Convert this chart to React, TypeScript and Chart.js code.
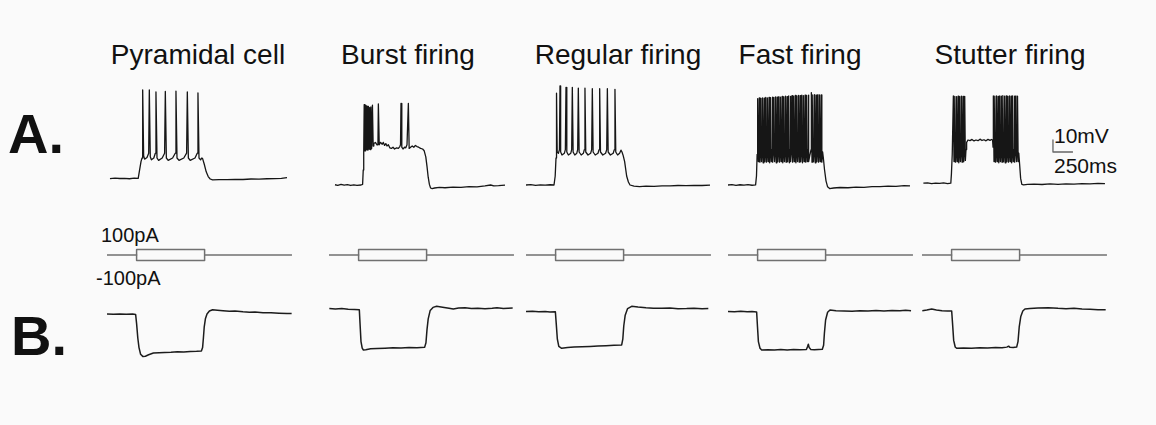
import React, { useEffect, useRef } from "react";
import { Chart, registerables } from "chart.js";
Chart.register(...registerables);

type Pt = [number, number];

// ---------- text ----------
const columnTitles = ["Pyramidal cell", "Burst firing", "Regular firing", "Fast firing", "Stutter firing"];
const rowLabels = ["A.", "B."];
const stimLabels = ["100pA", "-100pA"];
const scaleBarLabels = ["10mV", "250ms"];

// ---------- stimulus protocol (ms, pA) ----------
const stimBaseline: Pt[] = [[0, 0], [370, 0], [370, 100], [1220, 100], [1220, 0], [2312, 0]];
const stimNegative: Pt[] = [[370, 0], [370, -100], [1220, -100], [1220, 0]];

// ---------- scale bar (ms, mV) ----------
const scaleBar: Pt[] = [[1637, -40], [1637, -50], [1887, -50]];

// ---------- A. depolarising responses (ms, mV) ----------
const pyramidalA: Pt[] = [
  [37, -72.2], [100, -71.8], [160, -72.1], [220, -71.9], [280, -72.3], [340, -71.8], [390, -72],
  [405, -66], [425, -58], [438, -55],
  [446, 1.7], [458, -53], [470, -56], [500, -54.5], [521, -51],
  [529, 1.7], [541, -54], [555, -56.5], [585, -55], [604, -51],
  [612, 0], [625, -55], [645, -57], [690, -55], [720, -51],
  [729, 0.5], [742, -55], [765, -57], [820, -55], [853, -51],
  [862, 0.8], [875, -55], [900, -57], [960, -55], [995, -51],
  [1004, 0], [1017, -55], [1040, -57], [1100, -55], [1128, -51],
  [1137, -0.8], [1150, -55], [1170, -56.5], [1185, -55], [1195, -55.5],
  [1215, -60], [1240, -66.5], [1265, -70.5], [1290, -72.5], [1320, -73.3],
  [1400, -73.1], [1500, -73], [1600, -72.8], [1700, -72.9], [1800, -72.5], [1900, -72.6],
  [2000, -72.3], [2100, -72.2], [2180, -71.9], [2250, -71.4],
];

const burstA: Pt[] = [
  [75, -77.3], [110, -77.8], [150, -77], [190, -77.6], [230, -77.2], [270, -77.9], [310, -77.4],
  [350, -77.8], [400, -77.5], [420, -77],
  [428, -65], [434, -50], [440, -10.5], [446, -49], [452, -11], [458, -49], [465, -11.5], [472, -48],
  [479, -12], [486, -48.5], [493, -12], [500, -47.5], [508, -13], [516, -48], [524, -12.5], [533, -47],
  [543, -11], [552, -45],
  [560, -43], [580, -42], [600, -44], [612, -43], [617, -10], [628, -44], [645, -42], [665, -43.5],
  [679, -42], [695, -44.5], [710, -43], [725, -45], [742, -44], [760, -46.5], [780, -47], [800, -46],
  [820, -47.5], [845, -46.5], [867, -47], [885, -45.5], [894, -44], [900, -9.5], [910, -46], [925, -47.5],
  [945, -46], [960, -46.5], [975, -44], [986, -44], [992, -9.5], [1002, -47], [1020, -46], [1040, -45],
  [1060, -46], [1080, -44.5], [1100, -45.5], [1120, -46], [1145, -47], [1170, -47.5], [1190, -49],
  [1210, -54], [1225, -62], [1240, -71], [1255, -77], [1270, -80], [1290, -80.5], [1320, -80],
  [1380, -79.5], [1450, -79.8], [1550, -79.2], [1650, -79.4], [1750, -78.8], [1850, -79], [1950, -78.3],
  [2020, -77.5], [2060, -78.2], [2120, -78], [2200, -77.6],
];

const regularA: Pt[] = [
  [0, -77.5], [60, -77.2], [120, -77.8], [180, -77.4], [240, -77.6], [300, -77.3], [350, -77.5],
  [365, -70], [375, -55], [380, -49],
  [383, -1], [390, -50], [405, -51], [418, -48],
  [425, 5], [433, -50], [450, -52.5], [480, -51], [492, -48],
  [500, 3.9], [510, -50], [530, -52.5], [560, -51], [571, -48],
  [579, 3.9], [589, -50], [610, -52.5], [635, -51], [646, -48],
  [654, 3.3], [664, -50], [690, -52.5], [718, -51], [729, -48],
  [737, 3.3], [747, -50], [775, -52.5], [808, -51], [821, -48],
  [829, 2.8], [839, -50], [865, -52.5], [900, -51], [913, -48],
  [921, 2.8], [931, -50], [960, -52.5], [995, -51], [1009, -48],
  [1017, 2.8], [1027, -50], [1055, -52.5], [1090, -51], [1104, -48],
  [1112, 2.2], [1122, -50], [1145, -52.5], [1170, -51], [1187, -48.5], [1200, -50],
  [1215, -53], [1233, -58], [1258, -70], [1280, -75], [1300, -77.5], [1350, -78.5], [1420, -78.8],
  [1500, -78.4], [1600, -78.6], [1700, -78.2], [1800, -78.3], [1900, -77.9], [2000, -78.1],
  [2100, -77.8], [2200, -77.9], [2300, -77.6],
];

const fastA: Pt[] = [
  [0, -77.5], [50, -77.2], [100, -77.8], [150, -77.3], [200, -77.6], [250, -77.1], [300, -77.7],
  [345, -77.4], [356, -70], [364, -52],
  [371, -5.5], [379, -58], [387, -48],
  [391, -5.0], [399, -58.5], [407, -48],
  [411, -5.3], [419, -58], [427, -48],
  [431, -4.9], [439, -59], [448, -48],
  [452, -5.1], [460, -58], [468, -48],
  [472, -4.6], [480, -58.5], [488, -48],
  [492, -4.9], [500, -58], [509, -48],
  [513, -4.4], [521, -59], [529, -48],
  [533, -4.7], [541, -58], [550, -48],
  [554, -4.2], [562, -58.5], [570, -48],
  [574, -4.5], [582, -58], [591, -48],
  [595, -4.0], [603, -59], [611, -48],
  [615, -4.3], [623, -58], [632, -48],
  [636, -3.9], [644, -58.5], [652, -48],
  [656, -4.2], [664, -58], [673, -48],
  [677, -3.7], [685, -59], [693, -48],
  [697, -4.0], [705, -58], [714, -48],
  [718, -3.5], [726, -58.5], [734, -48],
  [738, -3.8], [746, -58], [755, -48],
  [759, -3.3], [767, -59], [775, -48],
  [779, -3.6], [787, -58], [796, -48],
  [800, -3.1], [808, -58.5], [816, -48],
  [820, -3.4], [828, -58], [837, -48],
  [841, -2.9], [849, -59], [857, -48],
  [861, -3.2], [869, -58], [878, -48],
  [882, -2.8], [890, -58.5], [898, -48],
  [902, -3.1], [910, -58], [919, -48],
  [923, -2.7], [931, -59], [939, -48],
  [943, -3.0], [951, -58], [960, -48],
  [964, -2.6], [972, -58.5], [980, -48],
  [984, -2.9], [992, -58], [1000, -48],
  [1004, -2.6], [1012, -58], [1022, -53], [1032, -50], [1038, -48],
  [1042, -0.5], [1050, -58.5], [1058, -48],
  [1062, -2.5], [1070, -58], [1079, -48],
  [1083, -2.3], [1091, -59], [1099, -48],
  [1103, -2.6], [1111, -58], [1120, -48],
  [1124, -2.2], [1132, -58.5], [1140, -48],
  [1144, -2.5], [1152, -58], [1161, -48],
  [1165, -2.4], [1173, -58.5], [1183, -50], [1192, -55], [1207, -65], [1225, -74], [1245, -79],
  [1270, -80.5], [1320, -80], [1400, -79.6], [1500, -79.8], [1600, -79.2], [1700, -79.4],
  [1800, -78.8], [1900, -78.9], [2000, -78.4], [2100, -78.6], [2200, -78.1], [2275, -78.3],
];

const stutterA: Pt[] = [
  [17, -76], [70, -75.8], [120, -76.3], [170, -75.9], [220, -76.2], [270, -75.8], [320, -76.3],
  [360, -76], [368, -68], [378, -52],
  [392, -3.3], [400, -58], [408, -48],
  [412, -3.6], [420, -58.5], [428, -48],
  [432, -3.9], [440, -58], [448, -48],
  [452, -3.5], [460, -59], [468, -48],
  [472, -3.8], [480, -58], [489, -48],
  [493, -3.4], [501, -58.5], [509, -48],
  [513, -3.7], [521, -58], [530, -48],
  [534, -3.6], [542, -57], [550, -48], [558, -42], [575, -40],
  [600, -40.5], [625, -39.5], [650, -40.8], [675, -40], [700, -40.6], [725, -39.3], [750, -40.4],
  [775, -39.8], [800, -40.7], [825, -39.5], [850, -40.3], [870, -39.6], [882, -40], [888, -46],
  [892, -3.3], [900, -58], [908, -48],
  [912, -3.5], [920, -58.5], [928, -48],
  [932, -3.2], [940, -58], [948, -48],
  [952, -3.6], [960, -59], [968, -48],
  [972, -3.3], [980, -58], [988, -48],
  [992, -3.5], [1000, -58.5], [1008, -48],
  [1012, -3.1], [1020, -58], [1028, -48],
  [1032, -3.4], [1040, -59], [1049, -48],
  [1053, -3.2], [1061, -58], [1069, -48],
  [1073, -3.6], [1081, -58.5], [1089, -48],
  [1093, -3.3], [1101, -58], [1109, -48],
  [1113, -3.5], [1121, -59], [1129, -48],
  [1133, -3.2], [1141, -58], [1150, -48],
  [1154, -3.4], [1162, -58.5], [1170, -48],
  [1174, -3.3], [1182, -58], [1190, -48],
  [1194, -3.4], [1202, -58], [1210, -51], [1220, -60], [1233, -72], [1248, -77],
  [1270, -77.4], [1320, -77], [1400, -76.8], [1500, -77.1], [1600, -76.6], [1700, -76.9],
  [1800, -76.5], [1900, -76.7], [2000, -76.3], [2100, -76.6], [2200, -76.2], [2287, -76.4],
];

// ---------- B. hyperpolarising responses (ms, mV) ----------
const pyramidalB: Pt[] = [
  [0, -72], [80, -72.3], [160, -71.9], [240, -72.2], [320, -72], [358, -72.4], [370, -80], [385, -92],
  [400, -100], [420, -105.5], [450, -107.5], [480, -107.2], [520, -106], [580, -104.5], [650, -104.2],
  [720, -104], [800, -103.8], [880, -103.4], [960, -103.6], [1040, -103.2], [1120, -103.1],
  [1180, -102.8], [1195, -100], [1205, -92], [1215, -83], [1230, -76], [1250, -72], [1280, -69.5],
  [1320, -68.5], [1380, -68.8], [1450, -69.3], [1530, -69.8], [1600, -69.6], [1700, -70.2],
  [1780, -70.5], [1850, -70.3], [1950, -70.9], [2050, -71], [2150, -71.3], [2250, -71.5], [2308, -71.6],
];

const burstB: Pt[] = [
  [4, -67.5], [80, -67.8], [160, -67.5], [240, -68], [320, -68.3], [379, -68.5], [388, -80], [400, -95],
  [415, -100.5], [430, -102], [460, -101.7], [520, -101], [600, -100.8], [700, -100.5], [800, -100.2],
  [900, -100.4], [1000, -100], [1100, -100.1], [1195, -99.8], [1212, -96], [1225, -85], [1240, -76],
  [1265, -69], [1300, -66.5], [1346, -65.6], [1420, -66.3], [1500, -67.2], [1554, -67.8], [1620, -67],
  [1700, -66.7], [1780, -67.5], [1860, -67.2], [1950, -67.6], [2040, -67.3], [2100, -66.8],
  [2180, -67.4], [2296, -67.1],
];

const regularB: Pt[] = [
  [0, -70], [80, -69.8], [160, -70.2], [240, -70], [300, -70.3], [367, -70.1], [378, -80], [392, -93],
  [410, -99], [446, -100.6], [520, -100], [600, -99.5], [700, -99.3], [800, -99], [900, -98.6],
  [1000, -98.4], [1100, -98.1], [1196, -97.8], [1210, -93], [1222, -82], [1240, -73], [1270, -67.5],
  [1321, -65.6], [1400, -66.2], [1500, -66.8], [1592, -67.2], [1700, -67.3], [1800, -67], [1900, -67.6],
  [2008, -67.5], [2100, -67.2], [2200, -67.6], [2279, -67.4],
];

const fastB: Pt[] = [
  [0, -70], [80, -70.2], [160, -69.8], [240, -70.1], [300, -70], [358, -70.3], [368, -82], [380, -95],
  [400, -100.5], [421, -102], [500, -101.8], [580, -102], [660, -101.6], [740, -101.9], [820, -101.5],
  [900, -101.8], [980, -101.6], [995, -99], [1004, -97.2], [1015, -100], [1035, -101.5], [1080, -101.8],
  [1130, -101.6], [1179, -101.4], [1195, -98], [1205, -88], [1220, -77], [1245, -70.5], [1275, -68.6],
  [1350, -69.2], [1450, -69.5], [1550, -69.8], [1650, -69.3], [1750, -69.6], [1850, -69.1],
  [1950, -69.4], [2050, -69], [2150, -69.3], [2220, -68.8], [2288, -69.2],
];

const stutterB: Pt[] = [
  [4, -69.2], [60, -68.6], [121, -67.8], [180, -68.6], [250, -69.2], [320, -69.4], [371, -69.5],
  [382, -80], [396, -94], [415, -99.5], [433, -100.6], [520, -100.3], [620, -100.5], [720, -100.1],
  [820, -100.4], [920, -100], [1000, -100.2], [1060, -99.6], [1083, -98.8], [1100, -99.8],
  [1140, -99.9], [1183, -99.6], [1200, -95], [1215, -83], [1235, -74], [1260, -69.5], [1287, -67.8],
  [1350, -67.5], [1450, -67], [1579, -66.7], [1700, -67.3], [1800, -67.6], [1900, -67.2],
  [2000, -67.8], [2100, -68], [2200, -68.4], [2296, -68.5],
];

const tracesA = [pyramidalA, burstA, regularA, fastA, stutterA];
const tracesB = [pyramidalB, burstB, regularB, fastB, stutterB];

// ---------- layout (px) ----------
const colLeft = [107, 329, 526, 728, 922];
const titleCenter = [198, 408, 618, 800, 1010];
const PANEL_W = 185;
const X_MAX = 2312.5;
const FONT = '"Liberation Sans", Arial, Helvetica, sans-serif';
const BG = "#fafafa";

type DS = { pts: Pt[]; color: string; width: number };

function Panel(props: {
  left: number; top: number; w: number; h: number; pad: number;
  yMin: number; yMax: number; sets: DS[];
}) {
  const ref = useRef<HTMLCanvasElement>(null);
  const { left, top, w, h, pad, yMin, yMax, sets } = props;
  useEffect(() => {
    const chart = new Chart(ref.current as HTMLCanvasElement, {
      type: "line",
      data: {
        datasets: sets.map((s) => ({
          data: s.pts.map(([x, y]) => ({ x, y })),
          borderColor: s.color,
          borderWidth: s.width,
          pointRadius: 0,
          fill: false,
          tension: 0,
          borderJoinStyle: "round" as const,
          borderCapStyle: "butt" as const,
        })),
      },
      options: {
        animation: false,
        responsive: false,
        maintainAspectRatio: false,
        events: [],
        layout: { padding: pad },
        plugins: { legend: { display: false }, tooltip: { enabled: false }, title: { display: false } },
        scales: {
          x: { type: "linear", min: 0, max: X_MAX, display: false },
          y: { type: "linear", min: yMin, max: yMax, display: false },
        },
      },
    });
    return () => chart.destroy();
  }, []);
  return (
    <canvas
      ref={ref}
      width={w + 2 * pad}
      height={h + 2 * pad}
      style={{ position: "absolute", left: left - pad, top: top - pad, width: w + 2 * pad, height: h + 2 * pad }}
    />
  );
}

function Label(props: { text: string; x: number; baseline: number; size: number; bold?: boolean; center?: boolean }) {
  const { text, x, baseline, size, bold, center } = props;
  const top = baseline - 0.8465 * size;
  const style: React.CSSProperties = {
    position: "absolute",
    top,
    fontFamily: FONT,
    fontSize: size,
    lineHeight: `${size}px`,
    fontWeight: bold ? 700 : 400,
    color: "#111",
    whiteSpace: "nowrap",
  };
  if (center) {
    style.left = x - 150;
    style.width = 300;
    style.textAlign = "center";
  } else {
    style.left = x;
  }
  return <div style={style}>{text}</div>;
}

export default function App() {
  return (
    <div style={{ position: "fixed", left: 0, top: 0, width: 1156, height: 425, background: BG, overflow: "hidden" }}>
      {columnTitles.map((t, i) => (
        <Label key={t} text={t} x={titleCenter[i]} baseline={64.5} size={28} center />
      ))}
      <Label text={rowLabels[0]} x={8} baseline={153} size={56} bold />
      <Label text={rowLabels[1]} x={11} baseline={355} size={56} bold />
      <Label text={stimLabels[0]} x={101} baseline={242} size={20} />
      <Label text={stimLabels[1]} x={96} baseline={285} size={20} />
      <Label text={scaleBarLabels[0]} x={1054} baseline={143} size={21} />
      <Label text={scaleBarLabels[1]} x={1054} baseline={173} size={21} />
      {colLeft.map((x0, i) => (
        <React.Fragment key={i}>
          <Panel
            left={x0} top={80} w={PANEL_W} h={120} pad={10} yMin={-90} yMax={10}
            sets={[
              { pts: tracesA[i], color: "#161616", width: 1.3 },
              ...(i === 4 ? [{ pts: scaleBar, color: "#666", width: 1.3 }] : []),
            ]}
          />
          <Panel
            left={x0} top={240} w={PANEL_W} h={30} pad={6} yMin={-270} yMax={270}
            sets={[
              { pts: stimBaseline, color: "#707070", width: 1.5 },
              { pts: stimNegative, color: "#707070", width: 1.5 },
            ]}
          />
          <Panel
            left={x0} top={290} w={PANEL_W} h={80} pad={10} yMin={-118.667} yMax={-52}
            sets={[{ pts: tracesB[i], color: "#1c1c1c", width: 1.5 }]}
          />
        </React.Fragment>
      ))}
    </div>
  );
}
